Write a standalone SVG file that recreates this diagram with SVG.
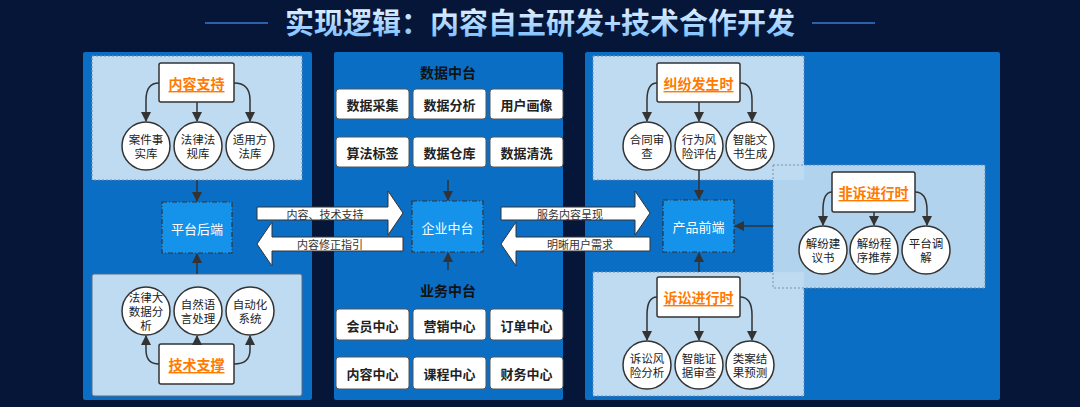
<svg xmlns="http://www.w3.org/2000/svg" width="1080" height="407" viewBox="0 0 1080 407">
<defs>
<linearGradient id="tg" x1="0" y1="0" x2="0" y2="1"><stop offset="0" stop-color="#ffffff"/><stop offset="1" stop-color="#6cb8ff"/></linearGradient>
<marker id="ah" viewBox="0 0 10 10" refX="9" refY="5" markerWidth="7" markerHeight="7" orient="auto"><path d="M0,0 L10,5 L0,10 z" fill="#333"/></marker>
<style>
text{font-family:"Noto Sans CJK SC","Noto Sans",sans-serif;text-anchor:middle;dominant-baseline:central}
.panel{fill:#0a6ec4}
.sub{fill:#bedbf1;stroke:#7a8ea6;stroke-width:1;stroke-dasharray:2 2}
.subs{fill:#bedbf1;stroke:#5a6a80;stroke-width:1}
.lab{fill:#fff;stroke:#333;stroke-width:1.5}
.labt{fill:#ff7a00;font-size:14px;font-weight:bold;text-decoration:underline}
.cir{fill:#fff;stroke:#333;stroke-width:1.5}
.ct{font-size:11.5px;fill:#222}
.hub{fill:#1592ea;stroke:#333;stroke-width:1.2;stroke-dasharray:5 2 1 2}
.hubt{fill:#fff;font-size:13px}
.box{fill:#fff;stroke:#555;stroke-width:1;rx:3}
.bt{font-size:13px;fill:#222;font-weight:bold}
.con{fill:none;stroke:#333;stroke-width:1.5;marker-end:url(#ah)}
.big{fill:#fff;stroke:#333;stroke-width:1}
.bigt{font-size:11px;fill:#333}
</style>
</defs>
<rect width="1080" height="407" fill="#061638"/>
<g id="title">
<line x1="205" y1="23" x2="268" y2="23" stroke="#3a7ad0" stroke-width="1.5"/>
<line x1="812" y1="23" x2="875" y2="23" stroke="#3a7ad0" stroke-width="1.5"/>
<text x="540" y="21" font-size="29" font-weight="bold" fill="url(#tg)">实现逻辑：内容自主研发+技术合作开发</text>
</g>
<rect class="panel" x="83" y="52" width="229" height="348" rx="2"/>
<rect class="panel" x="334" y="52" width="229" height="348" rx="2"/>
<rect class="panel" x="585" y="52" width="415" height="348" rx="2"/>

<g id="left-top">
<rect class="sub" x="92" y="56" width="210" height="124"/>
<g id="neirong"><rect class="lab" x="159" y="63" width="75" height="39" rx="2"/><text class="labt" x="196.5" y="83">内容支持</text></g>
<g id="c1"><circle class="cir" cx="146" cy="146" r="24"/><text class="ct" x="146" y="139">案件事</text><text class="ct" x="146" y="153">实库</text></g>
<g id="c2"><circle class="cir" cx="198" cy="146" r="24"/><text class="ct" x="198" y="139">法律法</text><text class="ct" x="198" y="153">规库</text></g>
<g id="c3"><circle class="cir" cx="250" cy="146" r="24"/><text class="ct" x="250" y="139">适用方</text><text class="ct" x="250" y="153">法库</text></g>
</g>
<g id="pthd"><rect class="hub" x="162" y="202" width="70" height="51"/><text class="hubt" x="197" y="228">平台后端</text></g>
<g id="left-bot">
<rect class="subs" x="92" y="274" width="210" height="122" rx="2"/>
<g id="c4"><circle class="cir" cx="146" cy="311" r="24"/><text class="ct" x="146" y="297">法律大</text><text class="ct" x="146" y="311">数据分</text><text class="ct" x="146" y="325">析</text></g>
<g id="c5"><circle class="cir" cx="198" cy="311" r="24"/><text class="ct" x="198" y="304">自然语</text><text class="ct" x="198" y="318">言处理</text></g>
<g id="c6"><circle class="cir" cx="250" cy="311" r="24"/><text class="ct" x="250" y="304">自动化</text><text class="ct" x="250" y="318">系统</text></g>
<g id="jishu"><rect class="lab" x="159" y="344" width="75" height="40" rx="2"/><text class="labt" x="196.5" y="364">技术支撑</text></g>
</g>

<g id="center">
<text x="448" y="72" font-size="14" font-weight="bold" fill="#111">数据中台</text>
<g id="b1"><rect class="box" x="336" y="89" width="73" height="30"/><text class="bt" x="372.5" y="104">数据采集</text></g>
<g id="b2"><rect class="box" x="413" y="89" width="73" height="30"/><text class="bt" x="449.5" y="104">数据分析</text></g>
<g id="b3"><rect class="box" x="490" y="89" width="73" height="30"/><text class="bt" x="526.5" y="104">用户画像</text></g>
<g id="b4"><rect class="box" x="336" y="137" width="73" height="30"/><text class="bt" x="372.5" y="152">算法标签</text></g>
<g id="b5"><rect class="box" x="413" y="137" width="73" height="30"/><text class="bt" x="449.5" y="152">数据仓库</text></g>
<g id="b6"><rect class="box" x="490" y="137" width="73" height="30"/><text class="bt" x="526.5" y="152">数据清洗</text></g>
<g id="qyzt"><rect class="hub" x="412" y="201" width="71" height="51"/><text class="hubt" x="447.5" y="227">企业中台</text></g>
<text x="448" y="290" font-size="14" font-weight="bold" fill="#111">业务中台</text>
<g id="b7"><rect class="box" x="336" y="309" width="73" height="31"/><text class="bt" x="372.5" y="325">会员中心</text></g>
<g id="b8"><rect class="box" x="413" y="309" width="73" height="31"/><text class="bt" x="449.5" y="325">营销中心</text></g>
<g id="b9"><rect class="box" x="490" y="309" width="73" height="31"/><text class="bt" x="526.5" y="325">订单中心</text></g>
<g id="b10"><rect class="box" x="336" y="357" width="73" height="32"/><text class="bt" x="372.5" y="373">内容中心</text></g>
<g id="b11"><rect class="box" x="413" y="357" width="73" height="32"/><text class="bt" x="449.5" y="373">课程中心</text></g>
<g id="b12"><rect class="box" x="490" y="357" width="73" height="32"/><text class="bt" x="526.5" y="373">财务中心</text></g>
</g>

<g id="right-top">
<rect class="sub" x="593" y="56" width="211" height="124"/>
<g id="jf"><rect class="lab" x="657" y="63" width="83" height="39" rx="2"/><text class="labt" x="698.5" y="83">纠纷发生时</text></g>
<g id="c7"><circle class="cir" cx="647" cy="146" r="24"/><text class="ct" x="647" y="139">合同审</text><text class="ct" x="647" y="153">查</text></g>
<g id="c8"><circle class="cir" cx="699" cy="146" r="24"/><text class="ct" x="699" y="139">行为风</text><text class="ct" x="699" y="153">险评估</text></g>
<g id="c9"><circle class="cir" cx="750" cy="146" r="24"/><text class="ct" x="750" y="139">智能文</text><text class="ct" x="750" y="153">书生成</text></g>
</g>
<g id="cpqd"><rect class="hub" x="663" y="200" width="71" height="52"/><text class="hubt" x="698.5" y="226">产品前端</text></g>
<g id="right-bot">
<rect class="sub" x="593" y="272" width="211" height="124"/>
<g id="ss"><rect class="lab" x="657" y="277" width="83" height="40" rx="2"/><text class="labt" x="698.5" y="297">诉讼进行时</text></g>
<g id="c10"><circle class="cir" cx="647" cy="365" r="24"/><text class="ct" x="647" y="358">诉讼风</text><text class="ct" x="647" y="372">险分析</text></g>
<g id="c11"><circle class="cir" cx="699" cy="365" r="24"/><text class="ct" x="699" y="358">智能证</text><text class="ct" x="699" y="372">据审查</text></g>
<g id="c12"><circle class="cir" cx="750" cy="365" r="24"/><text class="ct" x="750" y="358">类案结</text><text class="ct" x="750" y="372">果预测</text></g>
</g>
<g id="right-mid">
<rect class="sub" x="773" y="165" width="212" height="123" opacity="0.93"/>
<g id="fs"><rect class="lab" x="832" y="172" width="83" height="40" rx="2"/><text class="labt" x="873.5" y="192">非诉进行时</text></g>
<g id="c13"><circle class="cir" cx="823" cy="250" r="24"/><text class="ct" x="823" y="243">解纷建</text><text class="ct" x="823" y="257">议书</text></g>
<g id="c14"><circle class="cir" cx="874" cy="250" r="24"/><text class="ct" x="874" y="243">解纷程</text><text class="ct" x="874" y="257">序推荐</text></g>
<g id="c15"><circle class="cir" cx="926" cy="250" r="24"/><text class="ct" x="926" y="243">平台调</text><text class="ct" x="926" y="257">解</text></g>
</g>

<g id="connectors">
<path class="con" d="M159,83 Q146,83 146,100 L146,121"/>
<path class="con" d="M197,102 L197,121"/>
<path class="con" d="M234,83 Q250,83 250,100 L250,121"/>
<path class="con" d="M197,180 L197,201"/>
<path class="con" d="M197,274 L197,254"/>
<path class="con" d="M159,364 Q146,364 146,350 L146,336"/>
<path class="con" d="M197,344 L197,336"/>
<path class="con" d="M234,364 Q250,364 250,350 L250,336"/>
<path class="con" d="M448,180 L448,200"/>
<path class="con" d="M448,270 L448,253"/>
<path class="con" d="M657,83 Q647,83 647,100 L647,121"/>
<path class="con" d="M699,102 L699,121"/>
<path class="con" d="M740,83 Q752,83 752,100 L752,121"/>
<path class="con" d="M699,170 L699,199"/>
<path class="con" d="M699,272 L699,253"/>
<path class="con" d="M657,297 Q647,297 647,315 L647,340"/>
<path class="con" d="M699,317 L699,340"/>
<path class="con" d="M740,297 Q752,297 752,315 L752,340"/>
<path class="con" d="M832,192 Q823,192 823,210 L823,225"/>
<path class="con" d="M874,212 L874,225"/>
<path class="con" d="M915,192 Q927,192 927,210 L927,225"/>
<path class="con" d="M773,226 L735,226"/>
<path class="big" d="M257,207 L388,207 L388,191 L403,213 L388,235 L388,220 L257,220 Z"/>
<text class="bigt" x="325" y="214">内容、技术支持</text>
<path class="big" d="M403,237 L272,237 L272,222 L257,244 L272,266 L272,251 L403,251 Z"/>
<text class="bigt" x="330" y="244">内容修正指引</text>
<path class="big" d="M501,207 L635,207 L635,191 L650,213 L635,235 L635,220 L501,220 Z"/>
<text class="bigt" x="570" y="214">服务内容呈现</text>
<path class="big" d="M650,237 L516,237 L516,222 L501,244 L516,266 L516,251 L650,251 Z"/>
<text class="bigt" x="580" y="244">明晰用户需求</text>
</g>
</svg>
